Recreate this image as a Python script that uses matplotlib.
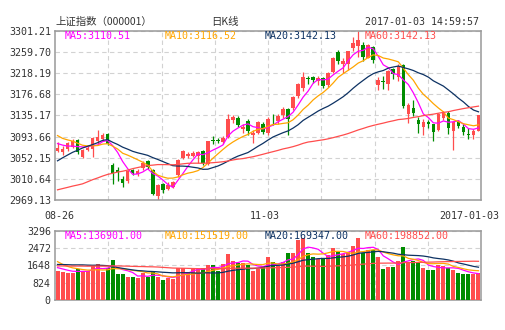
import matplotlib
matplotlib.use("Agg")
import matplotlib.pyplot as plt
import numpy as np
import pandas as pd

plt.rcParams['font.family'] = ['DejaVu Sans Mono', 'Noto Sans CJK SC']

# closes 2016-06-02 .. 2016-08-25, only used to start the moving averages
prev_close = [2925.23, 2938.68, 2934.10, 2936.04, 2927.16, 2833.07, 2842.19, 2887.21, 2872.82, 2885.11,
              2888.81, 2878.56, 2905.55, 2891.96, 2854.29, 2895.70, 2912.56, 2931.59, 2929.61,
              2932.48, 2988.60, 3006.39, 3017.85, 3016.85, 2988.09, 2994.92, 3049.38, 3060.69, 3054.02,
              3054.30, 3043.56, 3036.60, 3027.90, 3039.01, 3012.82, 3015.83, 3050.17, 2992.00, 2994.32,
              2979.34,
              2953.39, 2971.28, 2978.46, 2982.43, 2976.70, 3004.28, 3025.68, 3018.75, 3002.64, 3050.67,
              3125.20, 3110.04, 3109.04, 3104.11, 3108.10, 3084.81, 3089.71, 3085.87, 3068.33]
prev_vol = [1500, 1550, 1450, 1400, 1420, 1700, 1480, 1600, 1420, 1380, 1350, 1400, 1480, 1420, 1650,
            1450, 1500, 1600, 1580,
            1650, 1900, 2000, 1950, 1850, 1750, 1700, 1900, 1850, 1700, 1650, 1550, 1500, 1450, 1600,
            1550, 1450, 1600, 1650, 1500, 1400,
            1400, 1450, 1500, 1450, 1400, 1600, 1750, 1650, 1550, 1800,
            2600, 2300, 2000, 1850, 1800, 1650, 1600, 1550, 1500]

# 2016-08-26 .. 2017-01-03
opens = [3066, 3064, 3070, 3074, 3086, 3054, 3068, 3070, 3084, 3088,
         3098, 3037, 3028, 3011, 3006, 3028, 3020, 3031, 3045, 3028,
         2976, 3000, 2991, 2995, 3018, 3052, 3055, 3056, 3056, 3066,
         3040, 3086, 3086, 3082, 3092, 3126, 3130, 3108, 3125, 3097,
         3101, 3118, 3100, 3127, 3124, 3135, 3148, 3150, 3173, 3188,
         3208, 3210, 3203, 3208, 3195, 3220, 3260, 3236, 3236, 3268,
         3272, 3274, 3248, 3270, 3195, 3203, 3196, 3227, 3210, 3234,
         3138, 3150, 3126, 3112, 3123, 3118, 3106, 3130, 3140, 3104,
         3123, 3113, 3099, 3097, 3105]
highs = [3082, 3075, 3083, 3088, 3088, 3069, 3077, 3092, 3106, 3100,
         3101, 3041, 3034, 3017, 3028, 3030, 3030, 3046, 3048, 3030,
         3000, 3002, 3005, 3006, 3049, 3068, 3063, 3065, 3066, 3068,
         3085, 3095, 3091, 3095, 3137, 3136, 3133, 3118, 3128, 3106,
         3124, 3122, 3131, 3137, 3137, 3152, 3150, 3174, 3198, 3221,
         3212, 3213, 3212, 3210, 3220, 3249, 3264, 3247, 3262, 3288,
         3301.21, 3279, 3275, 3272, 3210, 3212, 3224, 3228, 3235, 3236,
         3160, 3166, 3132, 3128, 3127, 3119, 3140, 3143, 3143, 3124,
         3126, 3118, 3110, 3108, 3136.5]
lows = [3063, 3058, 3065, 3072, 3060, 3051, 3065, 3054, 3078, 3085,
        3077, 3000, 3006, 2994, 3003, 3019, 3016, 3028, 3030, 2978,
        2969.13, 2983, 2988, 2992, 3015, 3049, 3052, 3054, 3042, 3038,
        3038, 3078, 3080, 3078, 3090, 3120, 3112, 3100, 3096, 3080,
        3098, 3098, 3097, 3116, 3118, 3130, 3096, 3145, 3170, 3183,
        3197, 3198, 3195, 3188, 3190, 3218, 3236, 3219, 3224, 3262,
        3250, 3241, 3248, 3238, 3185, 3186, 3184, 3207, 3203, 3150,
        3120, 3134, 3100, 3096, 3110, 3084, 3105, 3126, 3099, 3067,
        3110, 3096, 3089, 3089, 3105]
closes = [3070.31, 3070.03, 3080.02, 3085.49, 3063.31, 3067.35, 3072.10, 3090.71, 3091.93, 3095.95,
          3078.85, 3021.98, 3023.51, 3002.85, 3026.05, 3023.00, 3025.87, 3042.31, 3033.90, 2980.43,
          2998.48, 2987.86, 2998.17, 3004.70, 3048.14, 3065.25, 3058.50, 3061.35, 3063.81, 3041.17,
          3083.88, 3084.72, 3084.46, 3090.94, 3128.25, 3131.94, 3115.81, 3112.35, 3104.27, 3100.49,
          3122.44, 3102.85, 3128.94, 3125.32, 3133.33, 3147.89, 3128.37, 3171.28, 3196.04, 3210.37,
          3206.99, 3205.06, 3208.45, 3192.86, 3218.15, 3248.35, 3241.14, 3241.74, 3261.94, 3277.00,
          3282.92, 3250.03, 3273.31, 3243.84, 3204.71, 3199.65, 3222.24, 3215.37, 3232.88, 3152.97,
          3155.04, 3140.53, 3117.68, 3122.98, 3118.08, 3102.88, 3137.43, 3139.56, 3110.15, 3122.57,
          3114.66, 3102.24, 3096.10, 3103.64, 3135.92]
vols = [1395, 1347, 1300, 1300, 1459, 1395, 1379, 1633, 1712, 1347,
        1506, 1902, 1237, 1237, 1078, 1078, 1062, 1300, 1110, 1332,
        1078, 951, 1030, 983, 1522, 1522, 1347, 1459, 1459, 1522,
        1665, 1665, 1395, 1712, 2188, 1855, 1744, 1775, 1680, 1395,
        1475, 1633, 2061, 1807, 1617, 1807, 2251, 2251, 2854, 2963,
        2251, 2061, 1934, 1934, 2140, 2457, 2299, 2172, 2299, 2568,
        2963, 2251, 2378, 2378, 2029, 1459, 1553, 1585, 1855, 2537,
        1775, 1855, 1744, 1506, 1427, 1427, 1665, 1617, 1506, 1427,
        1300, 1237, 1237, 1237, 1268]

date_labels = ['08-26', '11-03', '2017-01-03']
date_pos = [0, 42, 84]
price_ticks = [2969.13, 3010.64, 3052.15, 3093.66, 3135.17, 3176.68, 3218.19, 3259.70, 3301.21]
vol_ticks = [0, 824, 1648, 2472, 3296]
ma_days = [5, 10, 20, 60]
ma_colors = ['#ff00ff', '#ffa500', '#0d3263', '#ff4d4d']
price_legend = ['MA5:3110.51', 'MA10:3116.52', 'MA20:3142.13', 'MA60:3142.13']
vol_legend = ['MA5:136901.00', 'MA10:151519.00', 'MA20:169347.00', 'MA60:198852.00']

RED = '#ff4d4d'
GREEN = '#008c00'
W, H = 505, 330

o = np.array(opens, float)
c = np.array(closes, float)
hi = np.array(highs, float)
lo = np.array(lows, float)
v = np.array(vols, float)
n = len(c)
x = np.arange(n)
up = c >= o
col = np.where(up, RED, GREEN)

fig = plt.figure(figsize=(W / 100, H / 100), dpi=100)
fig.patch.set_facecolor('white')
ax = fig.add_axes([55 / W, 1 - 200 / H, 426 / W, 169.3 / H])
axv = fig.add_axes([55 / W, 1 - 300 / H, 426 / W, 69.3 / H])

grid_x = -0.5 + np.arange(1, 8) * n / 8
for a in (ax, axv):
    a.set_xlim(-0.5, n - 0.5)
    a.set_xticks(grid_x)
    a.set_xticklabels([])
    a.tick_params(length=0, labelsize=7.2, labelcolor='#333333', pad=3)
    for s in a.spines.values():
        s.set_color('#999999')
        s.set_linewidth(1.1)
    a.grid(True, color='#d2d2d2', linestyle=(0, (4, 3)), linewidth=0.8)
    a.set_axisbelow(True)

# candles
ax.vlines(x, lo, hi, colors=col, linewidth=0.9, zorder=2)
body = np.maximum(np.abs(c - o), 1.5)
ax.bar(x, body, bottom=np.minimum(o, c), width=0.72, color=col, linewidth=0, zorder=3)

all_close = pd.Series(prev_close + closes)
all_vol = pd.Series(prev_vol + vols)
for d, mc in zip(ma_days, ma_colors):
    ax.plot(x, all_close.rolling(d).mean().values[-n:], color=mc, linewidth=0.9, zorder=4)
    axv.plot(x, all_vol.rolling(d).mean().values[-n:], color=mc, linewidth=0.9, zorder=4)

ax.set_ylim(price_ticks[0], price_ticks[-1])
ax.set_yticks(price_ticks)
ax.set_yticklabels(['%.2f' % t for t in price_ticks])

axv.bar(x, v, width=0.8, color=col, linewidth=0, zorder=3)
axv.set_ylim(0, vol_ticks[-1])
axv.set_yticks(vol_ticks)
axv.set_yticklabels([str(t) for t in vol_ticks])

# legends inside panels
for k in range(4):
    fig.text((65 + 100 * k) / W, 1 - 36 / H, price_legend[k], color=ma_colors[k],
             fontsize=7.2, va='center', ha='left')
    fig.text((65 + 100 * k) / W, 1 - 236 / H, vol_legend[k], color=ma_colors[k],
             fontsize=7.2, va='center', ha='left')

# date labels
fig.text(59.5 / W, 1 - 216 / H, date_labels[0], fontsize=7.2, color='#333333', ha='center', va='center')
fig.text(265 / W, 1 - 216 / H, date_labels[1], fontsize=7.2, color='#333333', ha='center', va='center')
fig.text(499 / W, 1 - 216 / H, date_labels[2], fontsize=7.2, color='#333333', ha='right', va='center')

# header
fig.text(55 / W, 1 - 22 / H, '上证指数（000001）', fontsize=7.5, color='#333333', ha='left', va='center',
         family=['Noto Sans CJK SC', 'DejaVu Sans'])
fig.text(225 / W, 1 - 22 / H, '日K线', fontsize=7.5, color='#333333', ha='center', va='center',
         family=['Noto Sans CJK SC', 'DejaVu Sans'])
fig.text(479 / W, 1 - 22 / H, '2017-01-03 14:59:57', fontsize=7.2, color='#333333', ha='right', va='center')

fig.savefig('out.png', dpi=100)
